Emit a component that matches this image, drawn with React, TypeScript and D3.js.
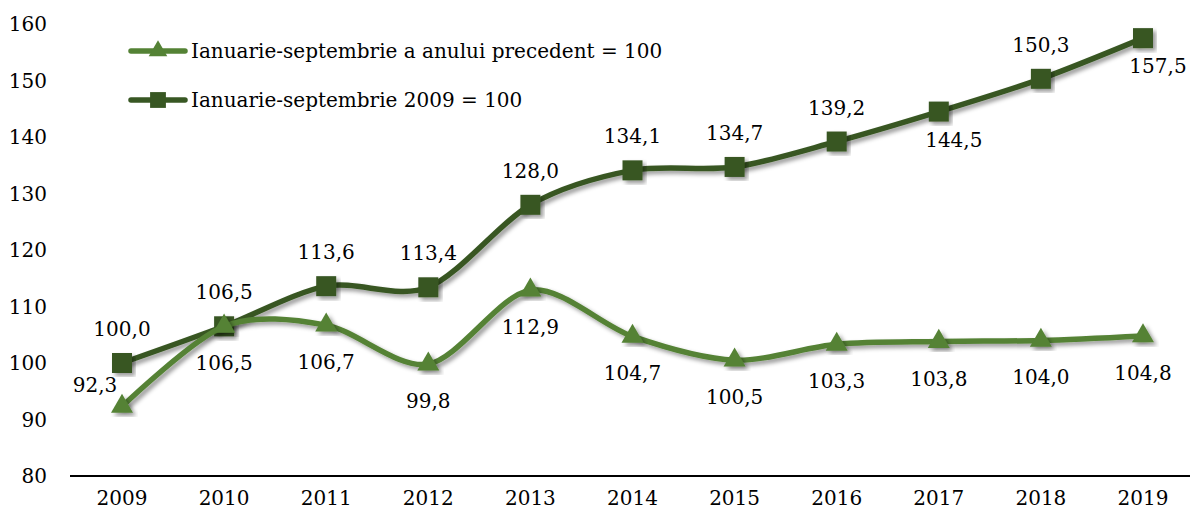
import { useRef, useEffect } from "react";
import * as d3 from "d3";

const years = ["2009", "2010", "2011", "2012", "2013", "2014", "2015", "2016", "2017", "2018", "2019"];
// Ianuarie-septembrie a anului precedent = 100
const prevYear = [92.3, 106.5, 106.7, 99.8, 112.9, 104.7, 100.5, 103.3, 103.8, 104.0, 104.8];
// Ianuarie-septembrie 2009 = 100
const base2009 = [100.0, 106.5, 113.6, 113.4, 128.0, 134.1, 134.7, 139.2, 144.5, 150.3, 157.5];
const yTicks = [80, 90, 100, 110, 120, 130, 140, 150, 160];
const seriesNames = ["Ianuarie-septembrie a anului precedent = 100", "Ianuarie-septembrie 2009 = 100"];
// where each value label sits relative to its marker
const prevLabelPos = ["left", "below", "below", "below", "below", "below", "below", "below", "below", "below", "below"];
const baseLabelPos = ["above", "above", "above", "above", "above", "above", "above", "above", "belowRight", "above", "belowRight"];

const W = 1190;
const H = 516;
const FONT = "'DejaVu Serif', serif";
const FS = 20;
const LIGHT = "#548235";
const DARK = "#385723";

export default function App() {
  const svgRef = useRef<SVGSVGElement>(null);

  useEffect(() => {
    const svg = d3.select(svgRef.current);
    svg.selectAll("*").remove();

    const defs = svg.append("defs");
    defs
      .append("filter")
      .attr("id", "shadow")
      .attr("x", "-20%")
      .attr("y", "-20%")
      .attr("width", "140%")
      .attr("height", "140%")
      .append("feDropShadow")
      .attr("dx", 3)
      .attr("dy", 3)
      .attr("stdDeviation", 2)
      .attr("flood-color", "#000")
      .attr("flood-opacity", 0.4);

    const x = d3.scalePoint().domain(years).range([122, 1143]);
    const y = d3.scaleLinear().domain([80, 160]).range([476, 24]);

    // y tick labels
    svg
      .append("g")
      .selectAll("text")
      .data(yTicks)
      .join("text")
      .attr("x", 47)
      .attr("y", (d) => y(d))
      .attr("dy", "0.35em")
      .attr("text-anchor", "end")
      .attr("font-family", FONT)
      .attr("font-size", FS)
      .text((d) => d);

    // x axis line + labels
    svg
      .append("line")
      .attr("x1", 70)
      .attr("x2", W)
      .attr("y1", y(80))
      .attr("y2", y(80))
      .attr("stroke", "#000")
      .attr("stroke-width", 2);

    svg
      .append("g")
      .selectAll("text")
      .data(years)
      .join("text")
      .attr("x", (d) => x(d)!)
      .attr("y", 498)
      .attr("dy", "0.35em")
      .attr("text-anchor", "middle")
      .attr("font-family", FONT)
      .attr("font-size", FS)
      .text((d) => d);

    const lineGen = d3
      .line<number>()
      .x((d, i) => x(years[i])!)
      .y((d) => y(d))
      .curve(d3.curveCardinal.tension(0.1));

    const triangle = d3.symbol().type(d3.symbolTriangle).size(210)()!;
    const square = d3.symbol().type(d3.symbolSquare).size(400)()!;

    const series = [
      { values: base2009, color: DARK, marker: square, pos: baseLabelPos },
      { values: prevYear, color: LIGHT, marker: triangle, pos: prevLabelPos },
    ];

    const fmt = (v: number) => v.toFixed(1).replace(".", ",");
    const offsets: Record<string, [number, number]> = {
      above: [0, -34],
      below: [0, 37],
      belowRight: [15, 28],
      left: [-27, -22],
    };

    series.forEach((s) => {
      const g = svg.append("g");
      g.append("path")
        .attr("d", lineGen(s.values))
        .attr("fill", "none")
        .attr("stroke", s.color)
        .attr("stroke-width", 5.5)
        .attr("stroke-linecap", "round")
        .attr("filter", "url(#shadow)");
      g.selectAll(".m")
        .data(s.values)
        .join("path")
        .attr("class", "m")
        .attr("d", s.marker)
        .attr("transform", (d, i) => `translate(${x(years[i])},${y(d)})`)
        .attr("fill", s.color)
        .attr("filter", "url(#shadow)");
    });

    series.forEach((s) => {
      svg
        .append("g")
        .selectAll("text")
        .data(s.values)
        .join("text")
        .attr("x", (d, i) => x(years[i])! + offsets[s.pos[i]][0])
        .attr("y", (d, i) => y(d) + offsets[s.pos[i]][1])
        .attr("dy", "0.35em")
        .attr("text-anchor", "middle")
        .attr("font-family", FONT)
        .attr("font-size", FS)
        .text((d) => fmt(d));
    });

    // legend
    const legend = [
      { name: seriesNames[0], color: LIGHT, marker: d3.symbol().type(d3.symbolTriangle).size(150)()!, ly: 51 },
      { name: seriesNames[1], color: DARK, marker: d3.symbol().type(d3.symbolSquare).size(250)()!, ly: 100 },
    ];
    const lg = svg.append("g");
    legend.forEach((l) => {
      lg.append("line")
        .attr("x1", 131)
        .attr("x2", 185)
        .attr("y1", l.ly)
        .attr("y2", l.ly)
        .attr("stroke", l.color)
        .attr("stroke-width", 5.5)
        .attr("stroke-linecap", "round");
      lg.append("path")
        .attr("d", l.marker)
        .attr("transform", `translate(158,${l.ly})`)
        .attr("fill", l.color);
      lg.append("text")
        .attr("x", 191)
        .attr("y", l.ly)
        .attr("dy", "0.35em")
        .attr("font-family", FONT)
        .attr("font-size", FS)
        .text(l.name);
    });
  }, []);

  return (
    <svg
      ref={svgRef}
      width={W}
      height={H}
      style={{ position: "absolute", left: 0, top: 0, background: "#fff" }}
    />
  );
}
